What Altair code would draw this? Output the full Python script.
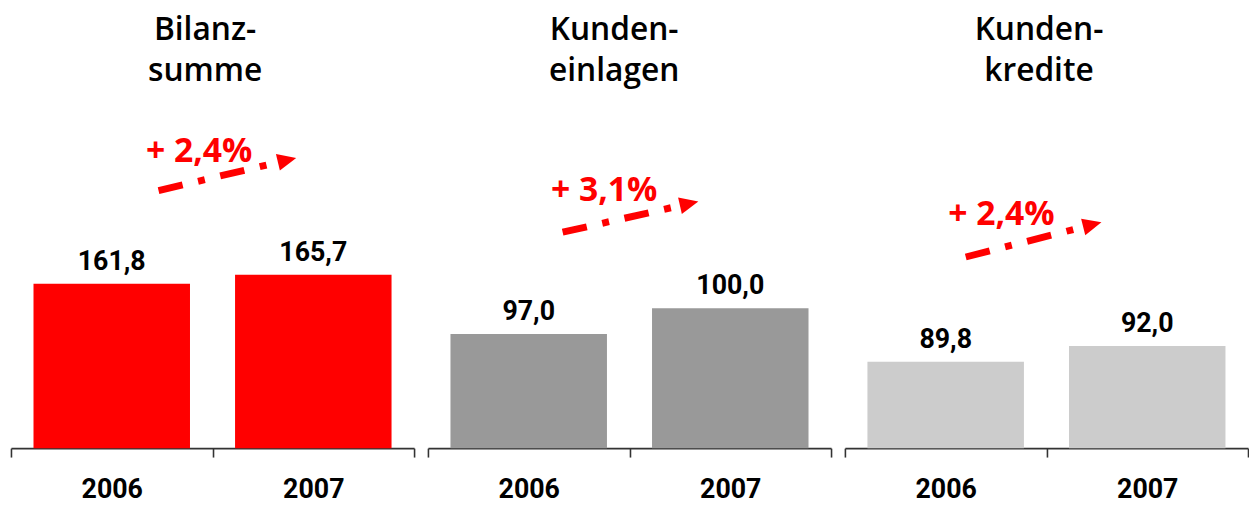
import math
import altair as alt
import pandas as pd

# ---- data ----
years = ["2006", "2007"]
panel_titles = [["Bilanz-", "summe"], ["Kunden-", "einlagen"], ["Kunden-", "kredite"]]
values_bilanzsumme = [161.8, 165.7]
values_kundeneinlagen = [97.0, 100.0]
values_kundenkredite = [89.8, 92.0]
growth_labels = ["+ 2,4%", "+ 3,1%", "+ 2,4%"]

# ---- styling ----
bar_colors = ["#FF0000", "#999999", "#CCCCCC"]
y_domains = [[89.9, 279.67], [83.7, 134.24], [77.8, 138.05]]
PANEL_W = 407
PANEL_H = 438
TOP_PAD = 4
NUM_FONT = "Roboto"
TITLE_FONT = "Open Sans"
RED = "#FF0000"

# annotation placement (pixels inside each panel)
title_x = [196, 188, 196]
title_line_y = [26, 67]
arrow_start = [(149, 178), (136, 220), (122, 245)]
arrow_tip = [(288, 145), (273, 189), (259, 210)]
growth_pos = [(190, 149), (178, 188), (158, 213)]

all_values = [values_bilanzsumme, values_kundeneinlagen, values_kundenkredite]


def fmt(v):
    return f"{v:.1f}".replace(".", ",")


def panel(i):
    df = pd.DataFrame({"year": years, "value": all_values[i],
                       "label": [fmt(v) for v in all_values[i]]})
    base = alt.Chart(df)
    x = alt.X("year:N",
              scale=alt.Scale(paddingInner=0, paddingOuter=0),
              axis=alt.Axis(title=None, labelAngle=0, tickBand="extent",
                            domainColor="#333333", domainWidth=1.6,
                            tickColor="#333333", tickWidth=1.6, tickSize=9,
                            labelFont=NUM_FONT, labelFontSize=27,
                            labelFontWeight="bold", labelColor="#000000",
                            labelPadding=20, grid=False))
    y = alt.Y("value:Q",
              scale=alt.Scale(domain=y_domains[i], zero=False, clamp=True),
              axis=None)
    bars = base.mark_bar(width=158, color=bar_colors[i]).encode(x=x, y=y)
    labels = base.mark_text(dy=-14, baseline="alphabetic", font=NUM_FONT,
                            fontSize=27, fontWeight="bold",
                            color="#000000").encode(x=x, y=y, text="label:N")

    one = pd.DataFrame({"growth": [growth_labels[i]]})
    title_layers = []
    for k, line in enumerate(panel_titles[i]):
        tdf = pd.DataFrame({"line": [line]})
        title_layers.append(alt.Chart(tdf).mark_text(
            font=TITLE_FONT, fontSize=32, fontWeight=600,
            align="center", baseline="alphabetic", color="#000000"
        ).encode(x=alt.value(title_x[i]), y=alt.value(title_line_y[k]),
                 text="line:N"))

    (sx, sy), (tx, ty) = arrow_start[i], arrow_tip[i]
    dx, dy = tx - sx, ty - sy
    L = math.hypot(dx, dy)
    ux, uy = dx / L, dy / L
    ex, ey = sx + dx * 0.80, sy + dy * 0.80
    hx, hy = tx - ux * 9.5, ty - uy * 9.5
    ang = math.degrees(math.atan2(dy, dx)) % 360

    rule = alt.Chart(one).mark_rule(
        color=RED, strokeWidth=7, strokeDash=[25, 16, 7, 16], strokeCap="butt"
    ).encode(x=alt.value(sx), y=alt.value(sy), x2=alt.value(ex), y2=alt.value(ey))
    head = alt.Chart(one).mark_point(
        shape="M-1,-0.9L1,0L-1,0.9Z", filled=True, color=RED, opacity=1,
        size=361, angle=ang, strokeWidth=0
    ).encode(x=alt.value(hx), y=alt.value(hy))
    gtext = alt.Chart(one).mark_text(
        font=TITLE_FONT, fontSize=34, fontWeight="bold", color=RED,
        align="center", baseline="alphabetic"
    ).encode(x=alt.value(growth_pos[i][0]), y=alt.value(growth_pos[i][1]),
             text="growth:N")

    return alt.layer(bars, labels, *title_layers, rule, head, gtext).properties(
        width=PANEL_W, height=PANEL_H)


chart = alt.hconcat(panel(0), panel(1), panel(2), spacing=12).properties(
    padding={"left": 2, "top": TOP_PAD, "right": 0, "bottom": 0}
).configure_view(stroke=None)

chart.save("out.html", embed_options={"renderer": "svg", "actions": False})
